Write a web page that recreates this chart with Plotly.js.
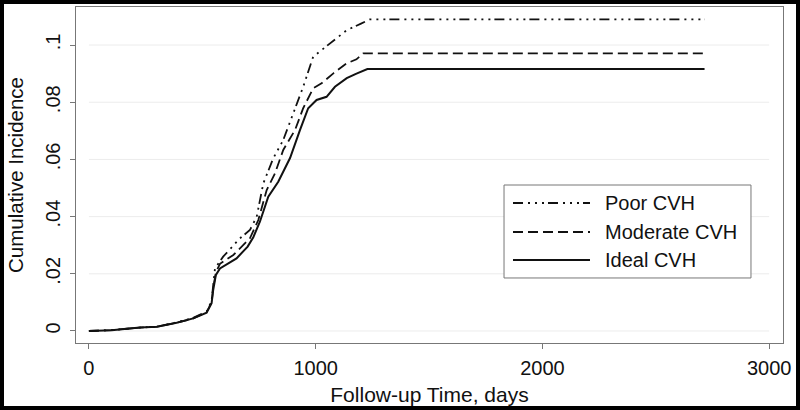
<!DOCTYPE html>
<html>
<head>
<meta charset="utf-8">
<script src="https://cdn.plot.ly/plotly-3.0.1.min.js"></script>
<style>
  body { margin: 0; background: #fff; }
  #wrap { width: 800px; height: 410px; box-sizing: border-box; border: 4px solid #000; }
  #plot { width: 792px; height: 402px; }
</style>
</head>
<body>
<div id="wrap"><div id="plot"></div></div>
<script>
// follow-up days and cumulative incidence
var idealDays = [0, 100, 225, 300, 387, 460, 519, 541, 548, 560, 578, 651, 700, 725, 754, 791, 835, 887, 931, 967, 1004, 1048, 1085, 1137, 1180, 1228, 2715];
var idealInc  = [0, 0.0003, 0.0012, 0.0015, 0.0029, 0.0044, 0.0064, 0.0097, 0.0143, 0.0196, 0.0219, 0.0254, 0.0295, 0.0328, 0.0382, 0.047, 0.0522, 0.0605, 0.0703, 0.0779, 0.0808, 0.0819, 0.0854, 0.0884, 0.0900, 0.0916, 0.0916];

var modDays = [0, 100, 225, 300, 387, 460, 519, 541, 548, 560, 578, 637, 710, 747, 784, 820, 857, 909, 945, 989, 1026, 1078, 1137, 1180, 1210, 2715];
var modInc  = [0, 0.0003, 0.0012, 0.0015, 0.0029, 0.0044, 0.0066, 0.0100, 0.0150, 0.0205, 0.0235, 0.0266, 0.0324, 0.0388, 0.0493, 0.0550, 0.0633, 0.0703, 0.0779, 0.0849, 0.0866, 0.0901, 0.0936, 0.0950, 0.0971, 0.0971];

var poorDays = [0, 100, 225, 300, 387, 460, 519, 541, 548, 556, 592, 666, 710, 740, 769, 813, 857, 901, 945, 989, 1063, 1137, 1200, 1240, 2715];
var poorInc  = [0, 0.0003, 0.0012, 0.0015, 0.0030, 0.0046, 0.0068, 0.0105, 0.0160, 0.0219, 0.0260, 0.0324, 0.0353, 0.0400, 0.0516, 0.0604, 0.0668, 0.0761, 0.0854, 0.0959, 0.1006, 0.1052, 0.1075, 0.1090, 0.1090];

var groupNames = ['Poor CVH', 'Moderate CVH', 'Ideal CVH'];
var groupDash = ['10px,5px,2px,5px,2px,5px,2px,4px', '10px,5px', 'solid'];

var yTicks = [0, 0.02, 0.04, 0.06, 0.08, 0.1];
var yTickText = ['0', '.02', '.04', '.06', '.08', '.1'];
var xTicks = [0, 1000, 2000, 3000];

var font = 'Arial, "Liberation Sans", sans-serif';

var poor = { x: poorDays, y: poorInc, name: groupNames[0], mode: 'lines', type: 'scatter',
  line: { color: '#111', width: 1.8, dash: groupDash[0] } };
var moderate = { x: modDays, y: modInc, name: groupNames[1], mode: 'lines', type: 'scatter',
  line: { color: '#111', width: 1.8, dash: groupDash[1] } };
var ideal = { x: idealDays, y: idealInc, name: groupNames[2], mode: 'lines', type: 'scatter',
  line: { color: '#111', width: 2, dash: groupDash[2] } };

var data = [poor, moderate, ideal];

// light grid lines over the data range only, like the original
var shapes = yTicks.map(v => ({
  type: 'line', xref: 'x', yref: 'y', x0: 0, x1: 3000, y0: v, y1: v,
  line: { color: '#ececec', width: 1 }, layer: 'below'
}));

// hand-made legend box so the line samples can be long
var legX0 = 0.6054, legX1 = 0.9547, legY0 = 0.1935, legY1 = 0.4702;
var rowY = [0.4167, 0.3304, 0.2470];
shapes.push({ type: 'rect', xref: 'paper', yref: 'paper', x0: legX0, x1: legX1, y0: legY0, y1: legY1,
  line: { color: '#777', width: 1 }, fillcolor: '#fff' });
var annotations = [];
groupNames.forEach((g, i) => {
  shapes.push({ type: 'line', xref: 'paper', yref: 'paper', x0: 0.6181, x1: 0.7270, y0: rowY[i], y1: rowY[i],
    line: { color: '#111', width: i == 2 ? 2 : 1.8, dash: groupDash[i] } });
  annotations.push({ xref: 'paper', yref: 'paper', x: 0.7454, y: rowY[i], xanchor: 'left', yanchor: 'middle',
    text: g, showarrow: false, font: { family: font, size: 20, color: '#111' } });
});

// y title placed by hand, nearer the edge than plotly puts it
annotations.push({ xref: 'paper', yref: 'paper', x: -0.0863, y: 0.5, xanchor: 'center', yanchor: 'middle',
  textangle: -90, text: 'Cumulative Incidence', showarrow: false,
  font: { family: font, size: 20.5, color: '#111' } });

var layout = {
  width: 792, height: 402,
  margin: { l: 72, r: 13, t: 3, b: 63 },
  paper_bgcolor: '#fff', plot_bgcolor: '#fff',
  showlegend: false,
  font: { family: font, size: 20, color: '#111' },
  xaxis: {
    range: [-57, 3061], tickvals: xTicks, ticks: 'outside', ticklen: 5, tickcolor: '#777',
    ticklabelstandoff: 2,
    showgrid: false, zeroline: false, showline: true, linecolor: '#777', mirror: true,
    title: { text: 'Follow-up Time, days', standoff: 10, font: { size: 21 } }
  },
  yaxis: {
    range: [-0.0042, 0.1133], tickvals: yTicks, ticktext: yTickText, tickangle: -90,
    ticks: 'outside', ticklen: 5, tickcolor: '#777', ticklabelstandoff: 2,
    showgrid: false, zeroline: false, showline: true, linecolor: '#777', mirror: true
  },
  shapes: shapes,
  annotations: annotations
};

Plotly.newPlot('plot', data, layout, { displayModeBar: false });
</script>
</body>
</html>
